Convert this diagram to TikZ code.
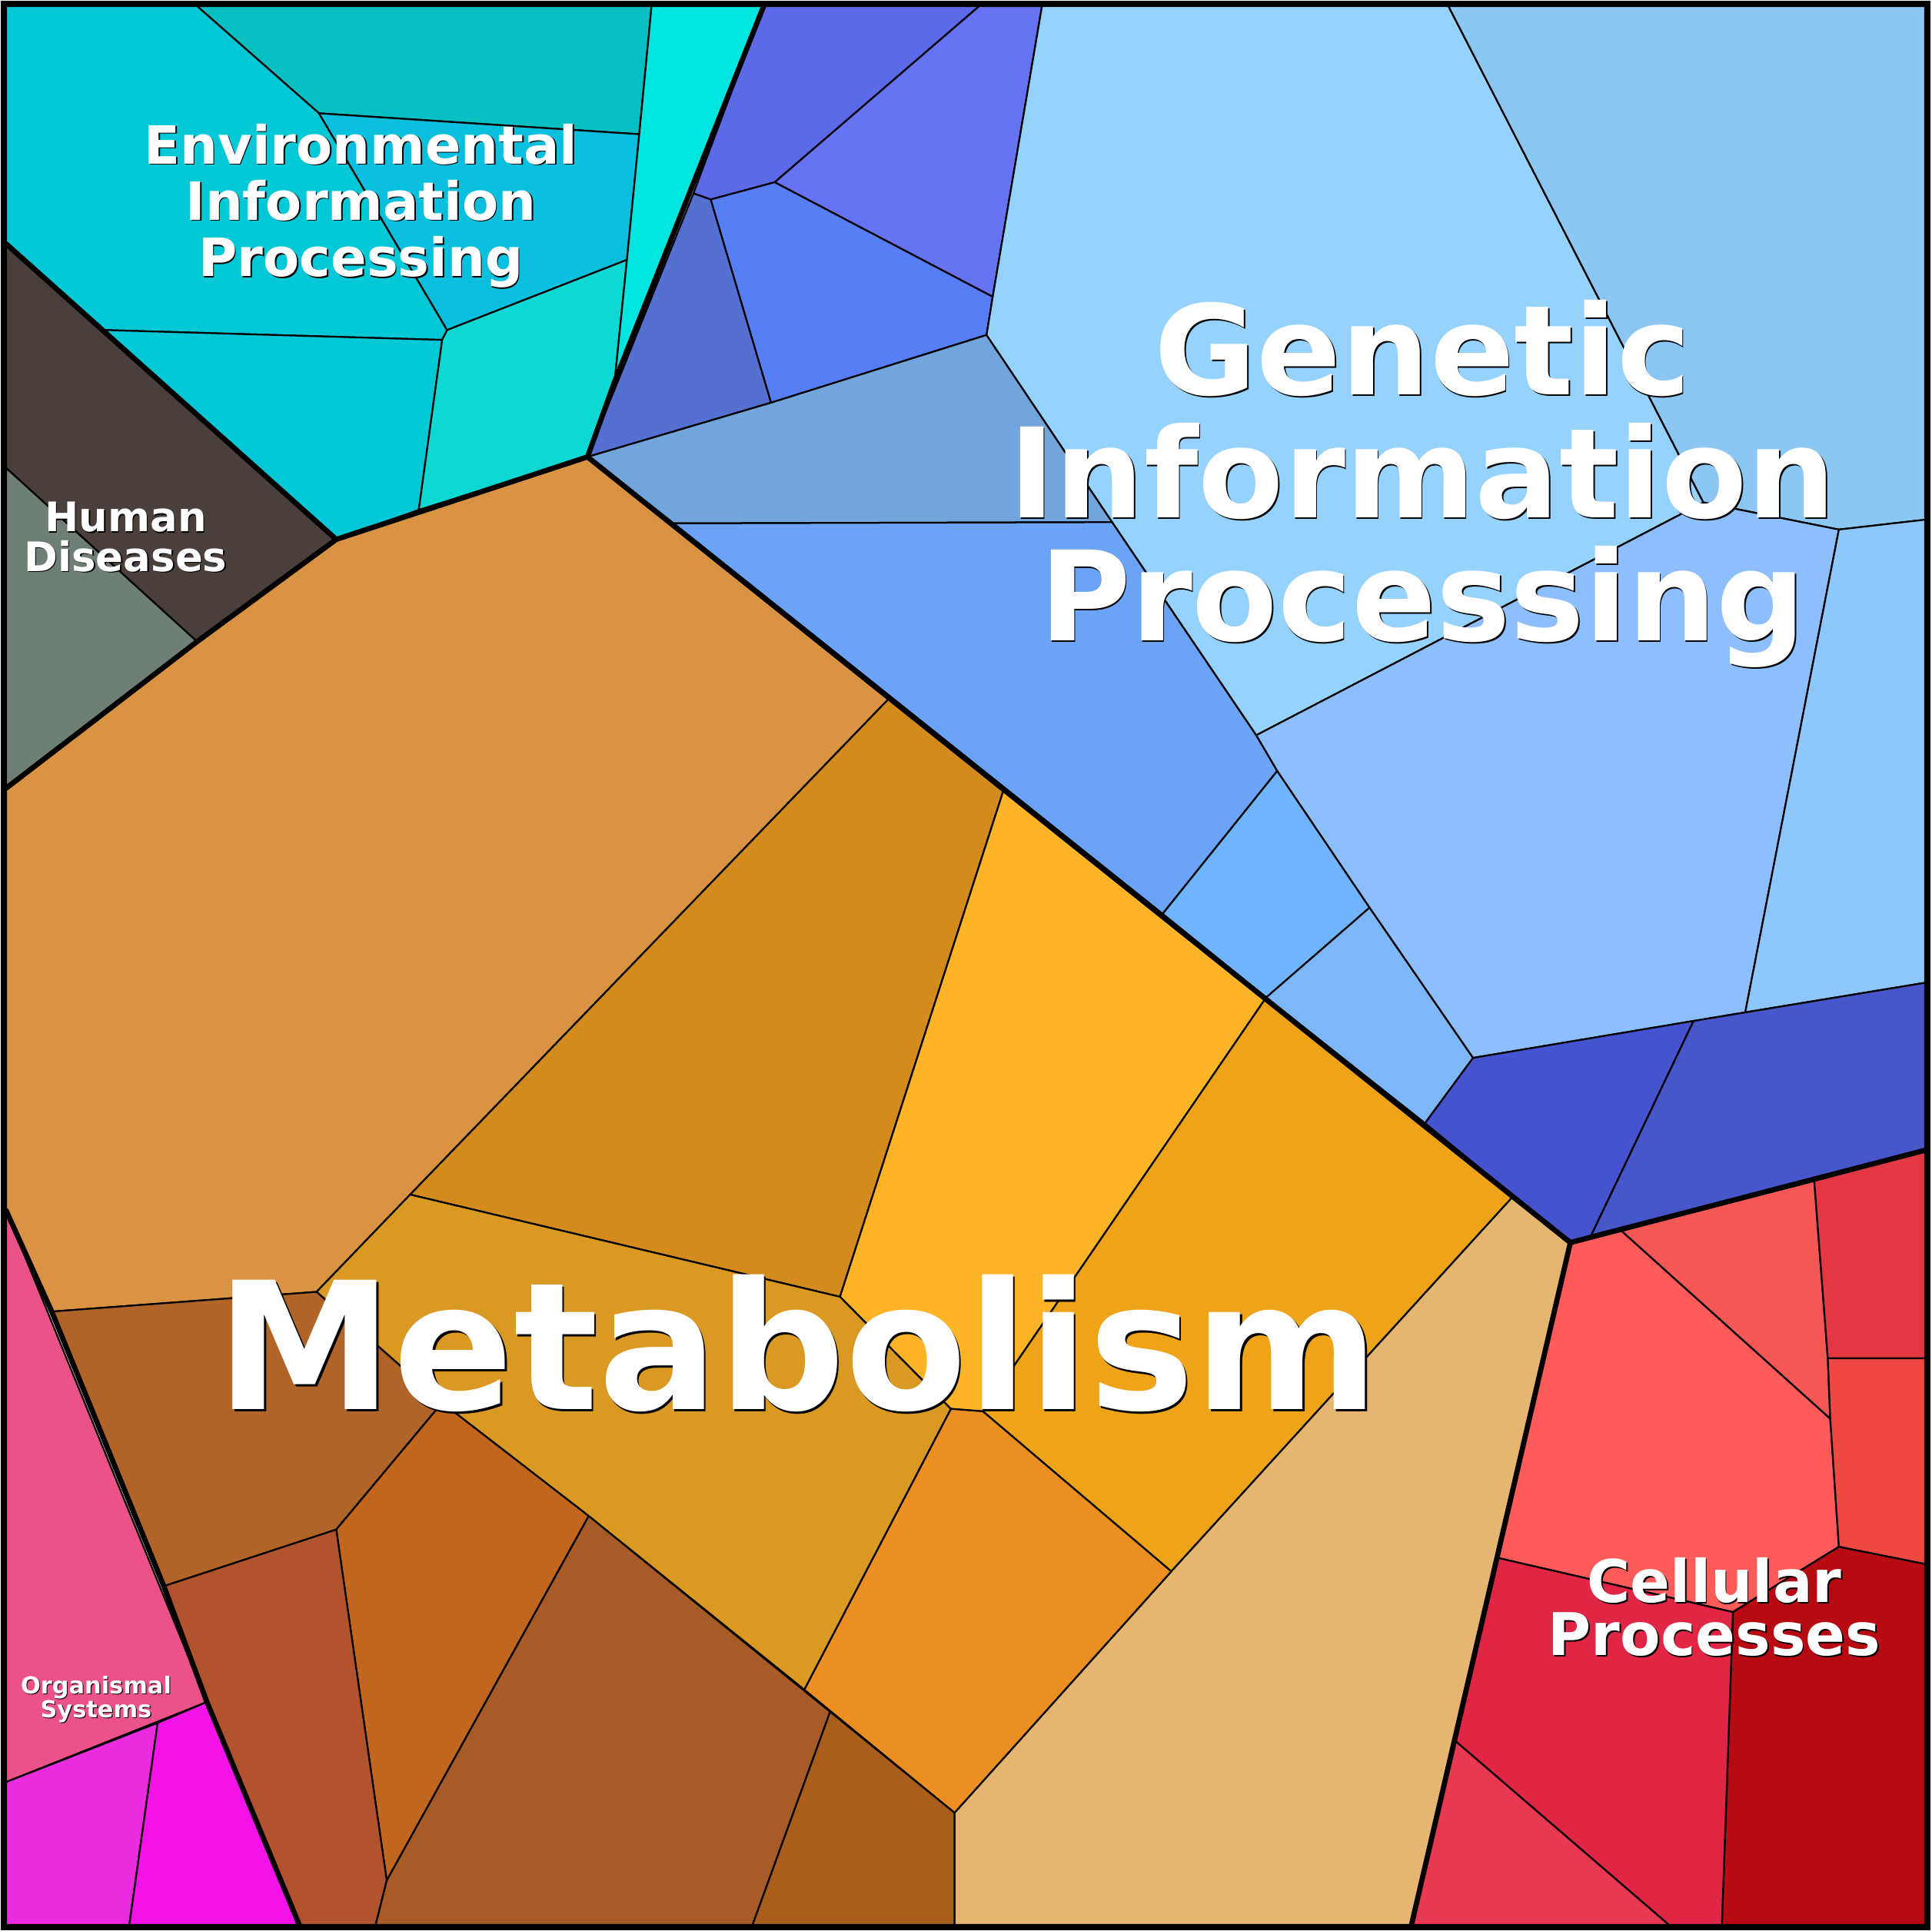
\documentclass[tikz,border=0pt]{standalone}
\usepackage{fontspec}
\setmainfont{DejaVu Sans}
\begin{document}
\begin{tikzpicture}[x=0.05cm,y=-0.05cm,
  cell/.style={draw=black,line width=2pt,line join=round},
  major/.style={draw=black,line width=6pt,line join=round,line cap=round},
  lbl/.style={text=white,align=center,inner sep=0pt},
  sh/.style={text=black,align=center,inner sep=0pt},
  fs/.style n args={2}{font={\bfseries\fontsize{#1}{#2}\selectfont}}]
\useasboundingbox (0,0) rectangle (1568,1568);
\def\cellp#1#2{\filldraw[cell,fill=#1] #2 -- cycle;}
\definecolor{c1}{HTML}{05BFC2}\definecolor{c2}{HTML}{00C8D7}\definecolor{c3}{HTML}{08C0DD}
\definecolor{c4}{HTML}{00C8D6}\definecolor{c5}{HTML}{0DD8D4}\definecolor{c6}{HTML}{00E5E0}
\definecolor{h1}{HTML}{4A3F3A}\definecolor{h2}{HTML}{6E7F74}
\definecolor{g1}{HTML}{5C6AE8}\definecolor{g2}{HTML}{6673F2}\definecolor{g3}{HTML}{587EF5}
\definecolor{g4}{HTML}{5470D0}\definecolor{g5}{HTML}{72A5DC}\definecolor{g6}{HTML}{6BA4F7}
\definecolor{g7}{HTML}{70B4FD}\definecolor{g8}{HTML}{7EB7F7}\definecolor{g9}{HTML}{95D3FE}
\definecolor{g10}{HTML}{8CC7F3}\definecolor{g11}{HTML}{8DBEFD}\definecolor{g12}{HTML}{8EC7FD}
\definecolor{g13}{HTML}{4653CE}\definecolor{g14}{HTML}{4756C8}
\definecolor{m1}{HTML}{DA9343}\definecolor{m2}{HTML}{D48B1E}\definecolor{m3}{HTML}{FDB426}
\definecolor{m4}{HTML}{EEA319}\definecolor{m5}{HTML}{E5B670}\definecolor{m6}{HTML}{EB8F22}
\definecolor{m7}{HTML}{DA9922}\definecolor{m8}{HTML}{B06428}\definecolor{m9}{HTML}{C2661D}
\definecolor{m10}{HTML}{B1532C}\definecolor{m11}{HTML}{A75B26}\definecolor{m12}{HTML}{AA5E1C}
\definecolor{o1}{HTML}{EA5289}\definecolor{o2}{HTML}{EA2BE0}\definecolor{o3}{HTML}{F313E8}
\definecolor{p1}{HTML}{FF5B5B}\definecolor{p2}{HTML}{F35756}\definecolor{p3}{HTML}{E33844}
\definecolor{p4}{HTML}{EF4741}\definecolor{p5}{HTML}{B70A13}\definecolor{p6}{HTML}{E12645}
\definecolor{p7}{HTML}{E93852}
% Environmental
\cellp{c1}{(160,5)--(259,92)--(519,109)--(529,5)}
\cellp{c2}{(5,5)--(160,5)--(259,92)--(363,268)--(359,276)--(85,268)--(5,198)}
\cellp{c3}{(259,92)--(519,109)--(509,211)--(363,268)}
\cellp{c4}{(85,268)--(359,276)--(340,414)--(273,438)}
\cellp{c5}{(363,268)--(509,211)--(499,310)--(477,371)--(340,414)--(359,276)}
\cellp{c6}{(529,5)--(620,5)--(499,310)--(509,211)--(519,109)}
% Human
\cellp{h1}{(5,198)--(273,438)--(160,521)--(5,380)}
\cellp{h2}{(5,380)--(160,521)--(5,640)}
% Genetic
\cellp{g1}{(620,5)--(795,5)--(629,148)--(577,162)--(563,157)}
\cellp{g2}{(795,5)--(846,5)--(806,241)--(629,148)}
\cellp{g3}{(577,162)--(629,148)--(806,241)--(801,272)--(626,327)}
\cellp{g4}{(563,157)--(577,162)--(626,327)--(477,371)}
\cellp{g5}{(626,327)--(801,272)--(903,424)--(547,425)--(477,371)}
\cellp{g6}{(547,425)--(903,424)--(1020,597)--(1037,626)--(944,742)}
\cellp{g7}{(944,742)--(1037,626)--(1112,737)--(1028,810)}
\cellp{g8}{(1028,810)--(1112,737)--(1196,859)--(1157,912)}
\cellp{g9}{(846,5)--(1176,5)--(1383,408)--(1020,597)--(903,424)--(801,272)--(806,241)}
\cellp{g10}{(1176,5)--(1563,5)--(1563,422)--(1493,430)--(1383,408)}
\cellp{g11}{(1383,408)--(1493,430)--(1417,822)--(1196,859)--(1112,737)--(1037,626)--(1020,597)}
\cellp{g12}{(1493,430)--(1563,422)--(1563,798)--(1417,822)}
\cellp{g13}{(1196,859)--(1375,829)--(1292,1003)--(1275,1009)--(1157,912)}
\cellp{g14}{(1375,829)--(1563,798)--(1563,934)--(1292,1003)}
% Metabolism
\cellp{m1}{(5,640)--(160,521)--(273,438)--(477,371)--(722,567)--(333,970)--(257,1049)--(42,1065)--(5,983)}
\cellp{m2}{(722,567)--(815,641)--(682,1053)--(333,970)}
\cellp{m3}{(815,641)--(1028,810)--(798,1146)--(772,1144)--(682,1053)}
\cellp{m4}{(1028,810)--(1228,972)--(951,1276)--(798,1146)}
\cellp{m5}{(1228,972)--(1275,1009)--(1146,1563)--(775,1563)--(775,1472)--(951,1276)}
\cellp{m6}{(772,1144)--(798,1146)--(951,1276)--(775,1472)--(653,1372)}
\cellp{m7}{(333,970)--(682,1053)--(772,1144)--(653,1372)--(478,1231)--(359,1139)--(257,1049)}
\cellp{m8}{(42,1065)--(257,1049)--(359,1139)--(273,1242)--(133,1288)}
\cellp{m9}{(273,1242)--(359,1139)--(478,1231)--(314,1527)}
\cellp{m10}{(133,1288)--(273,1242)--(314,1527)--(305,1563)--(243,1563)--(168,1382)}
\cellp{m11}{(314,1527)--(478,1231)--(674,1390)--(611,1563)--(305,1563)}
\cellp{m12}{(674,1390)--(775,1472)--(775,1563)--(611,1563)}
% Organismal
\cellp{o1}{(5,983)--(168,1382)--(5,1447)}
\cellp{o2}{(5,1447)--(128,1399)--(105,1563)--(5,1563)}
\cellp{o3}{(128,1399)--(168,1382)--(243,1563)--(105,1563)}
% Cellular
\cellp{p1}{(1275,1009)--(1316,999)--(1486,1152)--(1493,1256)--(1407,1309)--(1216,1265)}
\cellp{p2}{(1316,999)--(1473,959)--(1484,1103)--(1486,1152)}
\cellp{p3}{(1473,959)--(1563,934)--(1563,1103)--(1484,1103)}
\cellp{p4}{(1484,1103)--(1563,1103)--(1563,1270)--(1493,1256)--(1486,1152)}
\cellp{p5}{(1493,1256)--(1563,1270)--(1563,1563)--(1398,1563)--(1407,1309)}
\cellp{p6}{(1216,1265)--(1407,1309)--(1398,1563)--(1355,1563)--(1182,1414)}
\cellp{p7}{(1182,1414)--(1355,1563)--(1146,1563)}
% major boundaries
\draw[major] (5,198)--(273,438)--(477,371)--(499,310)--(620,5);
\draw[major] (273,438)--(160,521)--(5,640);
\draw[major] (477,371)--(1275,1009)--(1563,934);
\draw[major] (1275,1009)--(1146,1563);
\draw[major] (5,983)--(42,1065)--(133,1288)--(168,1382)--(243,1563);
\draw[draw=black,line width=7pt] (3,3) rectangle (1565,1565);
% labels
\node[sh,fs={61}{65}] at (294,168) {Environmental\\Information\\Processing};
\node[lbl,fs={61}{65}] (env) at (293,167) {Environmental\\Information\\Processing};
\node[sh,fs={47}{46}] at (103,437) {Human\\Diseases};
\node[lbl,fs={47}{46}] (hum) at (102,436) {Human\\Diseases};
\node[sh,fs={144}{142}] at (1156,394) {Genetic\\Information\\Processing};
\node[lbl,fs={144}{142}] (gen) at (1155,393) {Genetic\\Information\\Processing};
\node[sh,fs={205}{205}] at (649.5,1092.5) {Metabolism};
\node[lbl,fs={205}{205}] (met) at (648,1091) {Metabolism};
\node[sh,fs={68}{61}] at (1393,1306) {Cellular\\Processes};
\node[lbl,fs={68}{61}] (cel) at (1392,1305) {Cellular\\Processes};
\node[sh,fs={27}{28}] at (78.7,1380.7) {Organismal\\Systems};
\node[lbl,fs={27}{28}] (org) at (78,1380) {Organismal\\Systems};
\end{tikzpicture}
\end{document}
